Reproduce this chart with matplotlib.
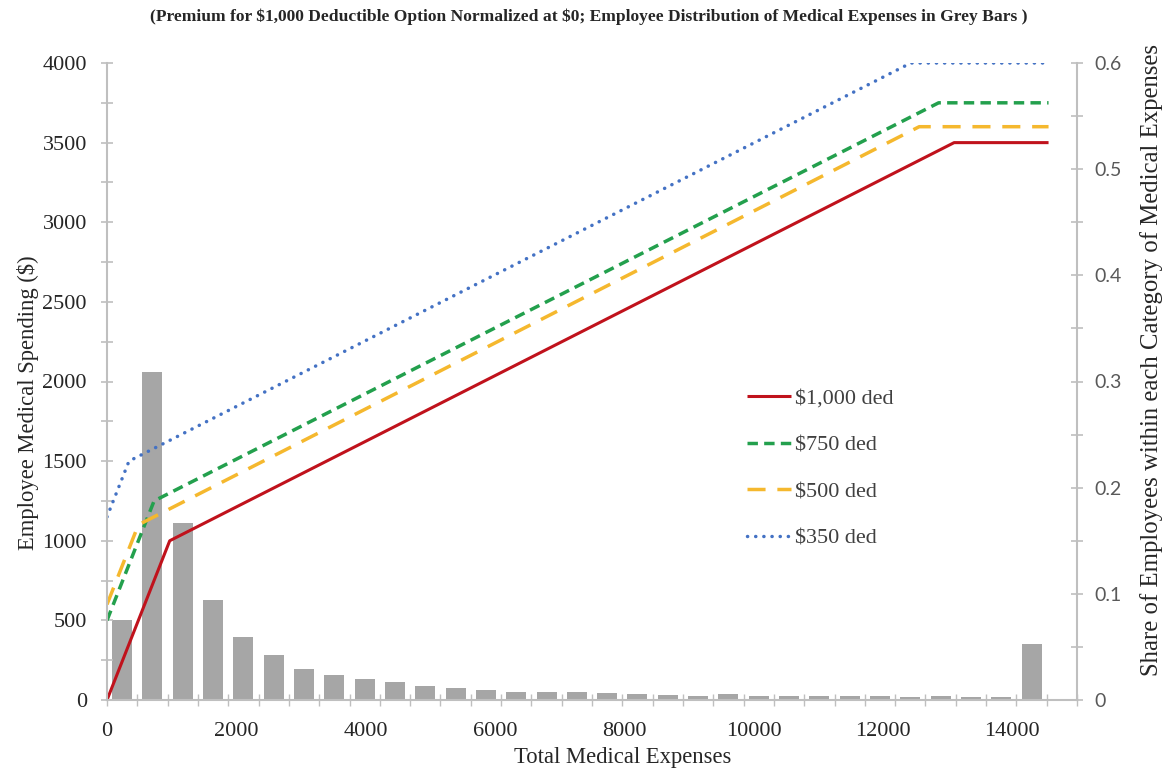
import matplotlib
matplotlib.use("Agg")
import matplotlib.pyplot as plt
from matplotlib.ticker import MultipleLocator, FixedLocator, NullFormatter
import numpy as np

# ---------------- data ----------------
title = "(Premium for $1,000 Deductible Option Normalized at $0; Employee Distribution of Medical Expenses in Grey Bars )"
x_label = "Total Medical Expenses"
y_label_left = "Employee Medical Spending ($)"
y_label_right = "Share of Employees within each Category of Medical Expenses"

series_names = ["$1,000 ded", "$750 ded", "$500 ded", "$350 ded"]
ded1000_x = [0, 970, 13100, 14560]
ded1000_y = [0, 1000, 3500, 3500]
ded750_x = [0, 728, 12860, 14560]
ded750_y = [500, 1250, 3750, 3750]
ded500_x = [0, 485, 12560, 14560]
ded500_y = [600, 1100, 3600, 3600]
ded350_x = [0, 340, 12430, 14560]
ded350_y = [1150, 1500, 4000, 4000]

# share of employees per expense category (32 categories, last one empty)
bar_share = [0.075, 0.309, 0.167, 0.094, 0.059, 0.042, 0.029, 0.024, 0.020,
             0.017, 0.013, 0.0115, 0.009, 0.0078, 0.0072, 0.0075, 0.0069,
             0.006, 0.005, 0.004, 0.0053, 0.004, 0.0038, 0.004, 0.0038,
             0.0034, 0.003, 0.0034, 0.0028, 0.0025, 0.0524]
n_categories = 32

x_ticks = [0, 2000, 4000, 6000, 8000, 10000, 12000, 14000]
y_left_ticks = [0, 500, 1000, 1500, 2000, 2500, 3000, 3500, 4000]
y_right_ticks = [0, 0.1, 0.2, 0.3, 0.4, 0.5, 0.6]
y_right_labels = ["0", "0.1", "0.2", "0.3", "0.4", "0.5", "0.6"]

# ---------------- style ----------------
serif = ["Liberation Serif", "DejaVu Serif"]
grey_axis = "#BFBFBF"
text_col = "#262626"

fig = plt.figure(figsize=(11.67, 7.71), dpi=100)
rect = [107 / 1167, 1 - 700 / 771, (1077 - 107) / 1167, (700 - 63) / 771]

# bar axes (bottom layer, right y axis)
axb = fig.add_axes(rect)
axb.bar(np.arange(len(bar_share)), bar_share, width=0.66, color="#A6A6A6", zorder=2)
axb.set_xlim(-0.5, n_categories - 0.5)
axb.set_ylim(0, 0.6)
axb.yaxis.tick_right()
axb.yaxis.set_label_position("right")
axb.set_yticks(y_right_ticks)
axb.set_yticklabels(y_right_labels, family=["Lato", "DejaVu Sans"], fontsize=14,
                    color="#595959")
axb.yaxis.set_minor_locator(MultipleLocator(0.05))
axb.tick_params(axis="y", which="both", direction="inout", length=9, width=1.2,
                color=grey_axis, pad=8)
axb.xaxis.set_major_locator(FixedLocator([]))
axb.xaxis.set_minor_locator(FixedLocator(np.arange(-0.5, n_categories, 1.0)))
axb.xaxis.set_minor_formatter(NullFormatter())
axb.tick_params(axis="x", which="minor", direction="inout", length=8, width=1.0,
                color=grey_axis)
for s in ["top", "left", "bottom"]:
    axb.spines[s].set_visible(False)
axb.spines["right"].set_color(grey_axis)
axb.spines["right"].set_linewidth(1.5)

# line axes (top layer)
ax = fig.add_axes(rect)
ax.patch.set_visible(False)
ax.plot(ded1000_x, ded1000_y, color="#C0121C", lw=2.2, label=series_names[0],
        solid_capstyle="butt")
ax.plot(ded750_x, ded750_y, color="#23A04D", lw=2.5, linestyle=(0, (3.0, 1.8)),
        label=series_names[1])
ax.plot(ded500_x, ded500_y, color="#F5B82E", lw=2.5, linestyle=(0, (5.2, 3.4)),
        label=series_names[2])
ax.plot(ded350_x, ded350_y, color="#4472C4", lw=2.5, linestyle=(0, (0.05, 2.3)),
        dash_capstyle="round", label=series_names[3])
ax.set_xlim(0, 15000)
ax.set_ylim(0, 4000)
ax.set_xticks(x_ticks)
ax.set_xticklabels([str(v) for v in x_ticks], family=serif, fontsize=16, color=text_col)
ax.tick_params(axis="x", length=0, pad=16)
ax.set_yticks(y_left_ticks)
ax.set_yticklabels([str(v) for v in y_left_ticks], family=serif, fontsize=16,
                   color=text_col)
ax.yaxis.set_minor_locator(MultipleLocator(250))
ax.tick_params(axis="y", which="both", direction="inout", length=9, width=1.2,
               color=grey_axis, pad=10)
for s in ["top", "right"]:
    ax.spines[s].set_visible(False)
for s in ["left", "bottom"]:
    ax.spines[s].set_color(grey_axis)
    ax.spines[s].set_linewidth(1.5)

leg = ax.legend(loc="upper left", bbox_to_anchor=(747 / 1167, 1 - 388 / 771),
                bbox_transform=fig.transFigure, frameon=False,
                prop={"family": serif, "size": 16}, handlelength=2.0,
                handletextpad=0.15, labelspacing=1.18, borderaxespad=0, borderpad=0)
for t in leg.get_texts():
    t.set_color("#404040")

fig.text(589 / 1167, 1 - 17 / 771, title, ha="center", va="center",
         family=serif, fontsize=12.6, fontweight="bold", color=text_col,
         parse_math=False)
fig.text(623 / 1167, 1 - 757 / 771, x_label, ha="center", va="center",
         family=serif, fontsize=16.3, color=text_col)
fig.text(28 / 1167, 1 - 403 / 771, y_label_left, ha="center", va="center",
         rotation=90, family=serif, fontsize=16.3, color=text_col)
fig.text(1152 / 1167, 1 - 360 / 771, y_label_right, ha="center", va="center",
         rotation=90, family=serif, fontsize=17.8, color=text_col)

fig.savefig("out.png", dpi=100, facecolor="white")
